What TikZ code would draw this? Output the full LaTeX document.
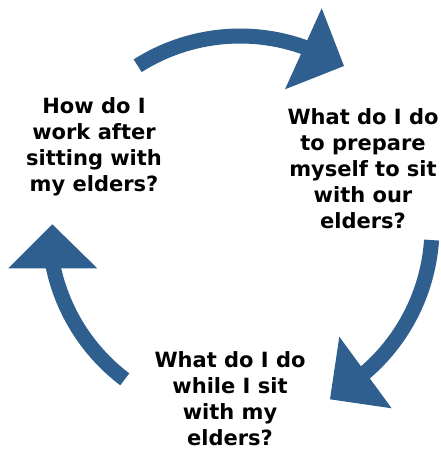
\documentclass[tikz,border=0pt]{standalone}
\usepackage{fontspec}
\setmainfont{DejaVu Sans}
\usepackage{tikz}
\usetikzlibrary{calc}
\usepackage{xcolor}
\definecolor{cycleblue}{RGB}{46, 95, 142}

\tikzset{
  question/.style={align=center, inner sep=0pt, font=\fontsize{21}{26}\selectfont\bfseries},
  shaft/.style={fill=cycleblue},
  head/.style={fill=cycleblue}
}

\begin{document}
\begin{tikzpicture}[x=1pt, y=1pt]
                \useasboundingbox (0,0) rectangle (441,-451);
                % Hub of the cycle
                \coordinate (hub) at (240,-227);
                % Questions
                \node[question] (prepare) at (363,-169) {What do I do\\to prepare\\myself to sit\\with our\\elders?};
                \node[question] (during) at (230,-398.5) {What do I do\\while I sit\\with my\\elders?};
                \node[question] (after) at (94,-146.5) {How do I\\work after\\sitting with\\my elders?};
                % Top arrow
                \fill[shaft] ($(hub)+(122.4:198.5)$) arc[start angle=122.4, end angle=68, radius=198.5] -- ($(hub)+(68:183.5)$) arc[start angle=68, end angle=122.4, radius=183.5] -- cycle;
                \fill[head] (321.7,-8.3) -- (344,-66) -- (285,-89.3) -- cycle;
                % Right arrow
                \fill[shaft] ($(hub)+(-3.9:199.5)$) arc[start angle=-3.9, end angle=-52, radius=199.5] -- ($(hub)+(-52:184.5)$) arc[start angle=-52, end angle=-3.9, radius=184.5] -- cycle;
                \fill[head] (339.3,-336.7) -- (330,-399.3) -- (391.7,-408.3) -- cycle;
                % Left arrow
                \fill[shaft] ($(hub)+(232.9:198.5)$) arc[start angle=232.9, end angle=190, radius=198.5] -- ($(hub)+(190:183.5)$) arc[start angle=190, end angle=232.9, radius=183.5] -- cycle;
                \fill[head] (52.3,-224.3) -- (8.3,-268.3) -- (97.3,-268.3) -- cycle;
            \end{tikzpicture}
\end{document}
